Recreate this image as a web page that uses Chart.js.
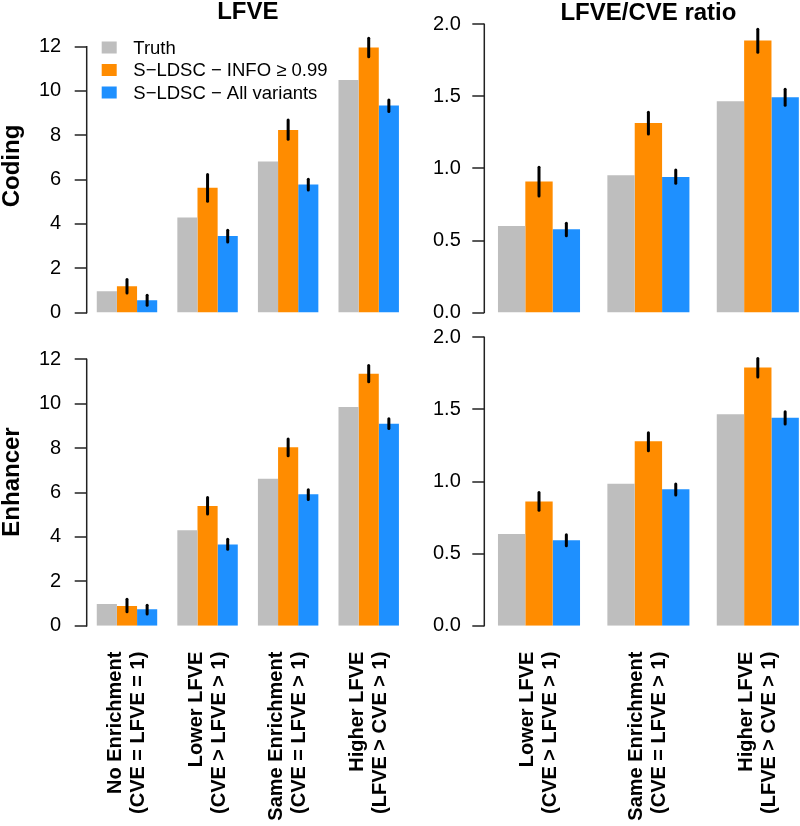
<!DOCTYPE html>
<html><head><meta charset="utf-8">
<script src="https://cdn.jsdelivr.net/npm/chart.js@4/dist/chart.umd.min.js"></script>
<style>
html,body{margin:0;padding:0;background:#fff;overflow:hidden;}
#wrap{position:relative;width:800px;height:826px;overflow:hidden;background:#fff;}
canvas{position:absolute;}
</style></head><body>
<div id="wrap">
<canvas id="tl" width="412" height="330" style="left:0px;top:0px"></canvas>
<canvas id="tr" width="420" height="330" style="left:400px;top:0px"></canvas>
<canvas id="bl" width="412" height="506" style="left:0px;top:320px"></canvas>
<canvas id="br" width="420" height="506" style="left:400px;top:320px"></canvas>
</div>
<script>
// ---------- data ----------
const seriesNames = ['Truth', 'S\u2212LDSC \u2212 INFO \u2265 0.99', 'S\u2212LDSC \u2212 All variants'];
const categoriesLFVE = [
  ['No Enrichment', '(CVE = LFVE = 1)'],
  ['Lower LFVE', '(CVE > LFVE > 1)'],
  ['Same Enrichment', '(CVE = LFVE > 1)'],
  ['Higher LFVE', '(LFVE > CVE > 1)']
];
const categoriesRatio = [
  ['Lower LFVE', '(CVE > LFVE > 1)'],
  ['Same Enrichment', '(CVE = LFVE > 1)'],
  ['Higher LFVE', '(LFVE > CVE > 1)']
];
const ticksLFVE = [0, 2, 4, 6, 8, 10, 12];
const ticksRatio = [0, 0.5, 1.0, 1.5, 2.0];

// Coding - LFVE
const codingLFVE_truth = [0.96, 4.29, 6.82, 10.50];
const codingLFVE_info = [1.19, 5.63, 8.24, 11.96];
const codingLFVE_infoLo = [0.89, 5.03, 7.82, 11.55];
const codingLFVE_infoHi = [1.49, 6.23, 8.69, 12.38];
const codingLFVE_all = [0.56, 3.46, 5.78, 9.34];
const codingLFVE_allLo = [0.33, 3.19, 5.53, 9.07];
const codingLFVE_allHi = [0.78, 3.72, 6.02, 9.59];

// Coding - LFVE/CVE ratio
const codingRatio_truth = [0.600, 0.953, 1.466];
const codingRatio_info = [0.909, 1.316, 1.887];
const codingRatio_infoLo = [0.809, 1.239, 1.806];
const codingRatio_infoHi = [1.008, 1.390, 1.965];
const codingRatio_all = [0.578, 0.941, 1.494];
const codingRatio_allLo = [0.534, 0.897, 1.438];
const codingRatio_allHi = [0.620, 0.990, 1.549];

// Enhancer - LFVE
const enhLFVE_truth = [0.98, 4.30, 6.62, 9.85];
const enhLFVE_info = [0.89, 5.39, 8.04, 11.35];
const enhLFVE_infoLo = [0.63, 5.03, 7.66, 10.99];
const enhLFVE_infoHi = [1.19, 5.78, 8.41, 11.73];
const enhLFVE_all = [0.74, 3.66, 5.92, 9.10];
const enhLFVE_allLo = [0.53, 3.44, 5.69, 8.89];
const enhLFVE_allHi = [0.92, 3.89, 6.13, 9.33];

// Enhancer - LFVE/CVE ratio
const enhRatio_truth = [0.636, 0.985, 1.466];
const enhRatio_info = [0.862, 1.279, 1.790];
const enhRatio_infoLo = [0.800, 1.214, 1.725];
const enhRatio_infoHi = [0.923, 1.339, 1.854];
const enhRatio_all = [0.592, 0.946, 1.443];
const enhRatio_allLo = [0.555, 0.906, 1.399];
const enhRatio_allHi = [0.631, 0.983, 1.484];

// ---------- styling ----------
const seriesColors = ['#BEBEBE', '#FF8C00', '#1E90FF'];
const FF = '"Liberation Sans", Arial, Helvetica, sans-serif';
const AXIS_COLOR = '#222';

const errorBarPlugin = {
  id: 'errorBars',
  afterDatasetsDraw(chart) {
    const ctx = chart.ctx, ys = chart.scales.y;
    ctx.save();
    ctx.strokeStyle = '#000';
    ctx.lineWidth = 3;
    ctx.lineCap = 'round';
    chart.data.datasets.forEach((ds, i) => {
      if (!ds.errLo) return;
      const meta = chart.getDatasetMeta(i);
      meta.data.forEach((bar, j) => {
        ctx.beginPath();
        ctx.moveTo(bar.x, ys.getPixelForValue(ds.errLo[j]));
        ctx.lineTo(bar.x, ys.getPixelForValue(ds.errHi[j]));
        ctx.stroke();
      });
    });
    ctx.restore();
  }
};

const axisLinePlugin = {
  id: 'axisLine',
  afterDraw(chart) {
    const ys = chart.scales.y, ctx = chart.ctx;
    const ticks = ys.ticks;
    const x = chart.chartArea.left;
    ctx.save();
    ctx.strokeStyle = AXIS_COLOR;
    ctx.lineWidth = 1.5;
    ctx.beginPath();
    ctx.moveTo(x, ys.getPixelForValue(ticks[0].value) + 0.75);
    ctx.lineTo(x, ys.getPixelForValue(ticks[ticks.length - 1].value) - 0.75);
    ctx.stroke();
    ctx.restore();
  }
};

const legendPlugin = {
  id: 'boxLegend',
  afterDraw(chart, args, opts) {
    if (!opts || !opts.show) return;
    const ctx = chart.ctx, ca = chart.chartArea;
    ctx.save();
    ctx.font = '18.5px ' + FF;
    ctx.textBaseline = 'middle';
    ctx.textAlign = 'left';
    chart.data.datasets.forEach((ds, i) => {
      const cy = ca.top + opts.dy + i * opts.rowGap;
      const bx = ca.left + opts.dx;
      ctx.fillStyle = ds.backgroundColor;
      ctx.fillRect(bx, cy - 6, 15, 12);
      ctx.fillStyle = '#000';
      ctx.fillText(ds.label, bx + 31.6, cy + 1);
    });
    ctx.restore();
  }
};

function zeroPad(s) {
  s.paddingLeft = 0; s.paddingRight = 0; s.paddingTop = 0; s.paddingBottom = 0;
}

function makePanel(id, cats, tickVals, series, o) {
  const datasets = series.map((s, i) => ({
    label: seriesNames[i],
    data: s.v,
    errLo: s.lo,
    errHi: s.hi,
    backgroundColor: seriesColors[i],
    borderWidth: 0,
    categoryPercentage: 0.75,
    barPercentage: 1.0
  }));
  return new Chart(document.getElementById(id), {
    type: 'bar',
    data: { labels: cats, datasets },
    plugins: [errorBarPlugin, axisLinePlugin, legendPlugin],
    options: {
      responsive: false,
      animation: false,
      devicePixelRatio: 1,
      layout: { padding: o.pad },
      plugins: {
        legend: { display: false },
        tooltip: { enabled: false },
        boxLegend: { show: !!o.legend, dx: 15, dy: 28.1, rowGap: 22.5 },
        title: o.title ? {
          display: true, text: o.title, color: '#000', fullSize: false,
          font: { family: FF, size: 24, weight: 'bold', lineHeight: 1 },
          padding: { top: o.titlePadTop, bottom: o.titlePadBottom }
        } : { display: false }
      },
      scales: {
        x: {
          display: !!o.showX,
          offset: true,
          grid: { display: false, drawTicks: false },
          border: { display: false },
          ticks: {
            autoSkip: false, maxRotation: 90, minRotation: 90,
            padding: 26, labelOffset: -11.5, color: '#000',
            font: { family: FF, size: 20, weight: 'bold', lineHeight: 1.15 }
          },
          afterFit: s => { if (o.xHeight) s.height = o.xHeight; zeroPad(s); }
        },
        y: {
          min: 0, max: o.yMax,
          afterFit: s => { s.width = o.yWidth; zeroPad(s); },
          afterBuildTicks: s => {
            s.ticks = tickVals.map(v => ({ value: v }));
          },
          ticks: {
            color: '#000', padding: o.tickPad,
            font: { family: FF, size: 20 },
            callback: v => o.decimals ? Number(v).toFixed(1) : String(v)
          },
          grid: {
            display: true, drawOnChartArea: false, drawTicks: true,
            tickLength: 12, tickWidth: 1.5, tickColor: AXIS_COLOR, lineWidth: 0
          },
          border: { display: false },
          title: o.yTitle ? {
            display: true, text: o.yTitle, color: '#000',
            font: { family: FF, size: 24, weight: 'bold', lineHeight: 1 },
            padding: { top: 0, bottom: 0 }
          } : { display: false }
        }
      }
    }
  });
}

makePanel('tl', categoriesLFVE, ticksLFVE, [
  { v: codingLFVE_truth },
  { v: codingLFVE_info, lo: codingLFVE_infoLo, hi: codingLFVE_infoHi },
  { v: codingLFVE_all, lo: codingLFVE_allLo, hi: codingLFVE_allHi }
], { yMax: 13.23, yWidth: 86.7, tickPad: 13.5, pad: { left: 0, right: 3, top: 0, bottom: 17.4 },
     title: 'LFVE', titlePadTop: 0.5, titlePadBottom: -5.1, yTitle: 'Coding', legend: true });

makePanel('tr', categoriesRatio, ticksRatio, [
  { v: codingRatio_truth },
  { v: codingRatio_info, lo: codingRatio_infoLo, hi: codingRatio_infoHi },
  { v: codingRatio_all, lo: codingRatio_allLo, hi: codingRatio_allHi }
], { yMax: 2.05, yWidth: 84.3, tickPad: 11.5, decimals: true, pad: { left: 0, right: 7.5, top: 0, bottom: 17.4 },
     title: 'LFVE/CVE ratio', titlePadTop: 1, titlePadBottom: -7.9 });

makePanel('bl', categoriesLFVE, ticksLFVE, [
  { v: enhLFVE_truth },
  { v: enhLFVE_info, lo: enhLFVE_infoLo, hi: enhLFVE_infoHi },
  { v: enhLFVE_all, lo: enhLFVE_allLo, hi: enhLFVE_allHi }
], { yMax: 12.95, yWidth: 86.7, tickPad: 13.5, pad: { left: 0, right: 3, top: 18.3, bottom: 0 },
     yTitle: 'Enhancer', showX: true, xHeight: 200.3 });

makePanel('br', categoriesRatio, ticksRatio, [
  { v: enhRatio_truth },
  { v: enhRatio_info, lo: enhRatio_infoLo, hi: enhRatio_infoHi },
  { v: enhRatio_all, lo: enhRatio_allLo, hi: enhRatio_allHi }
], { yMax: 2.03, yWidth: 84.3, tickPad: 11.5, decimals: true, pad: { left: 0, right: 7.5, top: 13, bottom: 0 },
     showX: true, xHeight: 200.3 });
</script>
</body></html>
